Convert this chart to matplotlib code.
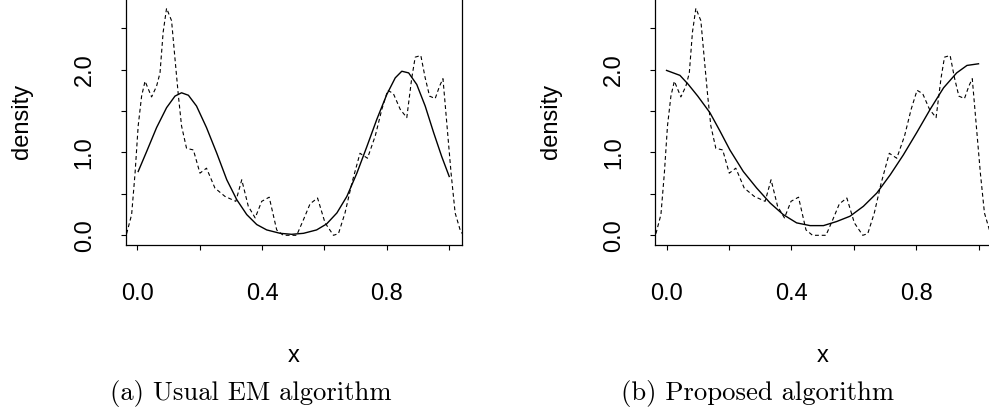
import numpy as np
import matplotlib.pyplot as plt

# dashed curve: kernel density of the data (same in both panels)
dens_x = [-0.034, -0.018, -0.007, 0.003, 0.014, 0.025, 0.046, 0.062, 0.073, 0.083,
          0.094, 0.110, 0.121, 0.132, 0.142, 0.158, 0.180, 0.201, 0.222, 0.249,
          0.281, 0.316, 0.335, 0.356, 0.378, 0.399, 0.423, 0.447, 0.468, 0.500,
          0.511, 0.533, 0.554, 0.578, 0.602, 0.629, 0.645, 0.666, 0.688, 0.714,
          0.738, 0.763, 0.784, 0.803, 0.821, 0.843, 0.864, 0.880, 0.891, 0.909,
          0.923, 0.937, 0.955, 0.969, 0.980, 0.993, 1.006, 1.019, 1.035, 1.042]
dens_y = [0.02, 0.25, 0.75, 1.32, 1.68, 1.86, 1.67, 1.80, 1.96, 2.45,
          2.74, 2.59, 2.13, 1.68, 1.32, 1.05, 1.03, 0.75, 0.81, 0.57,
          0.47, 0.41, 0.67, 0.35, 0.21, 0.41, 0.46, 0.065, 0.0, 0.0,
          0.0, 0.19, 0.38, 0.45, 0.15, 0.0, 0.02, 0.27, 0.63, 0.99,
          0.93, 1.20, 1.52, 1.75, 1.71, 1.52, 1.42, 1.90, 2.15, 2.17,
          1.90, 1.68, 1.65, 1.80, 1.89, 1.32, 0.75, 0.27, 0.065, 0.02]

# solid curve, panel (a): usual EM fit
em_x = [0.003, 0.030, 0.062, 0.094, 0.121, 0.142, 0.164, 0.190, 0.222, 0.255,
        0.287, 0.319, 0.351, 0.383, 0.415, 0.458, 0.495, 0.533, 0.575, 0.607,
        0.640, 0.672, 0.704, 0.736, 0.768, 0.800, 0.827, 0.848, 0.870, 0.896,
        0.923, 0.950, 0.976, 1.000]
em_y = [0.77, 1.01, 1.30, 1.54, 1.68, 1.72, 1.69, 1.56, 1.30, 0.99,
        0.67, 0.43, 0.25, 0.13, 0.065, 0.024, 0.012, 0.024, 0.065, 0.137,
        0.27, 0.47, 0.75, 1.07, 1.40, 1.70, 1.90, 1.98, 1.96, 1.82,
        1.56, 1.24, 0.95, 0.71]

# solid curve, panel (b): proposed algorithm
prop_x = [0.0, 0.043, 0.070, 0.100, 0.139, 0.171, 0.203, 0.246, 0.289, 0.332,
          0.374, 0.417, 0.460, 0.503, 0.545, 0.588, 0.631, 0.674, 0.717, 0.759,
          0.802, 0.845, 0.888, 0.930, 0.963, 1.000]
prop_y = [1.99, 1.93, 1.82, 1.68, 1.48, 1.26, 1.03, 0.77, 0.57, 0.39,
          0.25, 0.15, 0.117, 0.117, 0.166, 0.23, 0.35, 0.51, 0.73, 0.97,
          1.24, 1.52, 1.78, 1.96, 2.05, 2.07]

x_ticks = [0.0, 0.2, 0.4, 0.6, 0.8, 1.0]
x_ticklabels = ['0.0', '', '0.4', '', '0.8', '']
y_ticks = [0.0, 0.5, 1.0, 1.5, 2.0, 2.5]
y_ticklabels = ['0.0', '', '1.0', '', '2.0', '']
captions = ['(a) Usual EM algorithm', '(b) Proposed algorithm']

W, H = 989, 415
plt.rcParams['font.family'] = 'Liberation Sans'
fig = plt.figure(figsize=(W / 100, H / 100), dpi=100)

# panel geometry in pixels (left edge, from the reference)
lefts = [125.7, 655.0]
shift = lefts[1] - lefts[0]
ax_w, ax_bottom, ax_h = 336.3, 170.0, 261.6
cap_cx = [251, 758]

for i, (sx, sy) in enumerate([(em_x, em_y), (prop_x, prop_y)]):
    ax = fig.add_axes([lefts[i] / W, ax_bottom / H, ax_w / W, ax_h / H])
    ax.plot(dens_x, dens_y, color='black', lw=0.8, linestyle=(0, (3.5, 2.6)))
    ax.plot(sx, sy, color='black', lw=1.0)
    ax.set_xlim(-0.037, 1.041)
    ax.set_ylim(-0.117, 3.04)
    ax.set_xticks(x_ticks)
    ax.set_xticklabels(x_ticklabels)
    ax.set_yticks(y_ticks)
    ax.set_yticklabels(y_ticklabels)
    ax.tick_params(axis='both', direction='out', length=3.6, width=0.8,
                   labelsize=17, color='black')
    ax.tick_params(axis='x', pad=24)
    ax.tick_params(axis='y', pad=18, labelrotation=90)
    for lab in ax.get_yticklabels():
        lab.set_va('center')
    for s in ax.spines.values():
        s.set_linewidth(0.9)
        s.set_color('black')

    fig.text((22 + i * shift) / W, 1 - 121 / H, 'density', rotation=90,
             ha='center', va='center', fontsize=17)
    fig.text((lefts[i] + ax_w / 2) / W, 1 - 362 / H, 'x',
             ha='center', va='baseline', fontsize=17)
    fig.text(cap_cx[i] / W, 1 - 400 / H, captions[i], family='cmr10',
             ha='center', va='baseline', fontsize=19.2)

fig.savefig('out.png', dpi=100)
